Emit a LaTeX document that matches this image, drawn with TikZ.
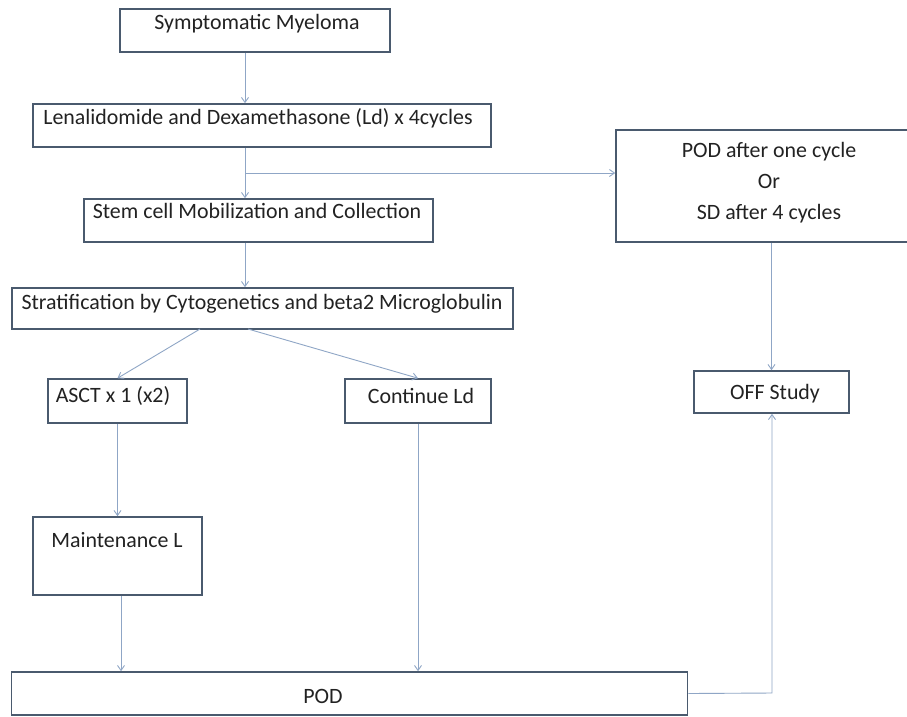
\documentclass[tikz,border=0pt]{standalone}
\usepackage{fontspec}
\setmainfont{Carlito}
\usetikzlibrary{arrows.meta}
\definecolor{boxline}{HTML}{4A5A6E}
\definecolor{conn}{HTML}{8FA6C6}
\definecolor{txt}{HTML}{222222}
\tikzset{
  box/.style={draw=boxline, line width=1.6pt, fill=white, inner sep=0pt},
  lbl/.style={text=txt, font=\fontsize{21.9}{26}\selectfont, inner sep=0pt, anchor=center},
  conline/.style={draw=conn, line width=0.9pt},
  arr/.style={conline, -{Straight Barb[length=5pt,width=7pt]}},
}
\begin{document}
\begin{tikzpicture}[x=1pt,y=-1pt]
\useasboundingbox (0,0) rectangle (907,716);
\fill[white] (0,0) rectangle (907,716);
\begin{scope}
\clip (0,0) rectangle (907,716);
% boxes
\node[box, minimum width=270pt, minimum height=43pt] (sm) at (255,30.5) {};
\node[box, minimum width=458pt, minimum height=43pt] (ld) at (262,125.5) {};
\node[box, minimum width=349pt, minimum height=43pt] (sc) at (258.5,220.5) {};
\node[box, minimum width=501pt, minimum height=41pt] (st) at (262.5,308.5) {};
\node[box, minimum width=139pt, minimum height=44pt] (as) at (117.5,401) {};
\node[box, minimum width=146pt, minimum height=44pt] (cl) at (418,401) {};
\node[box, minimum width=169pt, minimum height=78pt] (mt) at (117.5,556) {};
\node[box, minimum width=676pt, minimum height=43pt] (pd) at (349.5,693.5) {};
\node[box, minimum width=300pt, minimum height=112pt] (pa) at (766,186) {};
\node[box, minimum width=155pt, minimum height=42pt] (of) at (771.5,392) {};
\end{scope}
% texts
\node[lbl] (smt) at (257,24) {Symptomatic Myeloma};
\node[lbl] (ldt) at (258,118) {Lenalidomide and Dexamethasone (Ld) x 4cycles};
\node[lbl] (sct) at (257,211) {Stem cell Mobilization and Collection};
\node[lbl] (stt) at (262,304) {Stratification by Cytogenetics and beta2 Microglobulin};
\node[lbl] (ast) at (113,396) {ASCT x 1 (x2)};
\node[lbl] (clt) at (421,396) {Continue Ld};
\node[lbl] (mtt) at (117,540) {Maintenance L};
\node[lbl] (pdt) at (323,696) {POD};
\node[lbl, align=center, font=\fontsize{21.9}{31}\selectfont] (pat) at (769,183) {POD after one cycle\\Or\\SD after 4 cycles};
\node[lbl] (oft) at (775,394) {OFF Study};
% connectors
\coordinate (br) at (245,173);
\draw[arr] (sm.south -| br) -- (ld.north -| br);
\draw[arr] (ld.south -| br) -- (sc.north -| br);
\draw[arr] (br) -- (br -| pa.west);
\draw[arr] (sc.south -| br) -- (st.north -| br);
\coordinate (s1) at (200,329);
\coordinate (s2) at (248,329);
\draw[arr] (s1) -- (as.north);
\draw[arr] (s2) -- (cl.north);
\draw[arr] (as.south) -- (mt.north);
\coordinate (m1) at (121,0);
\draw[arr] (mt.south -| m1) -- (pd.north -| m1);
\draw[arr] (cl.south) -- (pd.north -| cl.south);
\draw[arr] (pa.south -| of.north) -- (of.north);
\coordinate (cn) at (772,693);
\draw[arr] (pd.east) -- (cn) -- (of.south -| cn);
\end{tikzpicture}
\end{document}
